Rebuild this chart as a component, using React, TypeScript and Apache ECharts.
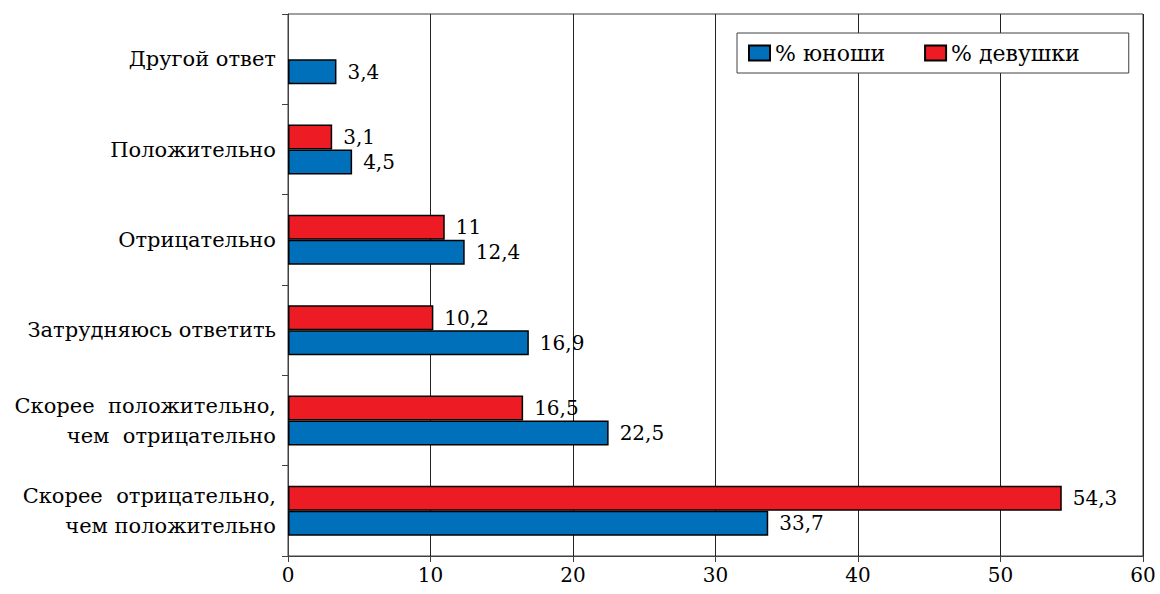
import React, { useEffect, useRef } from "react";
import * as echarts from "echarts";

const categories = [
  "Скорее  отрицательно,\nчем положительно",
  "Скорее  положительно,\nчем  отрицательно",
  "Затрудняюсь ответить",
  "Отрицательно",
  "Положительно",
  "Другой ответ",
];
const boys = [33.7, 22.5, 16.9, 12.4, 4.5, 3.4];
const girls: (number | null)[] = [54.3, 16.5, 10.2, 11, 3.1, null];
const xTicks = { min: 0, max: 60, interval: 10 };

const FONT = "DejaVu Serif";

export default function App() {
  const ref = useRef<HTMLDivElement>(null);
  useEffect(() => {
    if (!ref.current) return;
    const chart = echarts.init(ref.current, undefined, { renderer: "svg" });
    const fmt = (p: any) => String(p.value).replace(".", ",");
    const label = {
      show: true,
      position: "right" as const,
      distance: 11,
      color: "#000",
      fontSize: 20,
      fontFamily: FONT,
      formatter: fmt,
    };
    chart.setOption({
      animation: false,
      backgroundColor: "#fff",
      textStyle: { fontFamily: FONT },
      grid: {
        left: 288,
        right: 17,
        top: 14,
        bottom: 38,
        show: true,
        borderColor: "#404040",
        borderWidth: 1,
      },
      legend: {
        data: ["% юноши", "% девушки"],
        left: 737,
        top: 33,
        orient: "horizontal",
        icon: "rect",
        itemWidth: 21,
        itemHeight: 15,
        itemGap: 39,
        padding: [9, 49, 9, 11],
        borderColor: "#404040",
        borderWidth: 1,
        backgroundColor: "#fff",
        textStyle: { fontSize: 22, fontFamily: FONT, color: "#000" },
      },
      xAxis: {
        type: "value",
        min: xTicks.min,
        max: xTicks.max,
        interval: xTicks.interval,
        axisLine: { show: true, lineStyle: { color: "#404040", width: 1 } },
        axisTick: { show: true, length: 6, lineStyle: { color: "#404040" } },
        axisLabel: { fontSize: 20, fontFamily: FONT, color: "#000", margin: 9 },
        splitLine: { show: true, lineStyle: { color: "#222", width: 1 } },
      },
      yAxis: {
        type: "category",
        data: categories,
        axisLine: { show: true, lineStyle: { color: "#404040", width: 1 } },
        axisTick: { show: true, length: 6, alignWithLabel: false, lineStyle: { color: "#404040" } },
        axisLabel: {
          fontSize: 21,
          fontFamily: FONT,
          color: "#000",
          margin: 12,
          lineHeight: 30,
          align: "right",
        },
        splitLine: { show: false },
      },
      series: [
        {
          name: "% девушки",
          type: "bar",
          data: girls,
          barWidth: 25,
          barGap: "0%",
          itemStyle: { color: "#ED1C24", borderColor: "#000", borderWidth: 1.5 },
          label,
        },
        {
          name: "% юноши",
          type: "bar",
          data: boys,
          barWidth: 25,
          barGap: "0%",
          itemStyle: { color: "#0070BA", borderColor: "#000", borderWidth: 1.5 },
          label,
        },
      ],
    });
    return () => chart.dispose();
  }, []);
  return (
    <div
      ref={ref}
      style={{ position: "fixed", left: 0, top: 0, width: 1160, height: 594, background: "#fff" }}
    />
  );
}
